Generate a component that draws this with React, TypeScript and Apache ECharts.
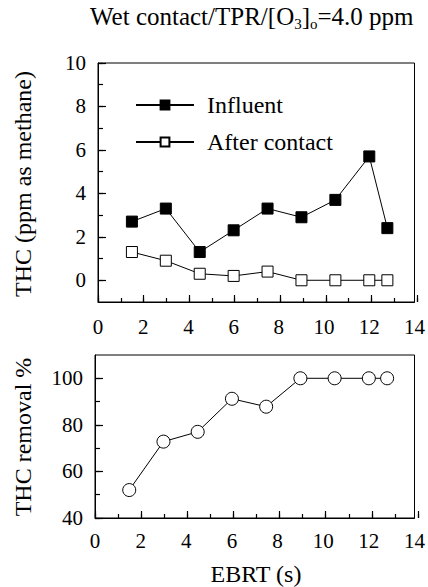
import React, { useEffect, useRef } from "react";
import * as echarts from "echarts";

const ebrt = [1.5, 3, 4.5, 6, 7.5, 9, 10.5, 12, 12.8];
const influent = [2.7, 3.3, 1.3, 2.3, 3.3, 2.9, 3.7, 5.7, 2.4];
const afterContact = [1.3, 0.9, 0.3, 0.2, 0.4, 0, 0, 0, 0];
const removal = [52, 72.8, 77, 91.2, 87.8, 100, 100, 100, 100];

const topLabelValues = [0, 2, 4, 6, 8, 10];
const bottomLabelValues = [40, 60, 80, 100];

const FONT = "Liberation Serif";
const BLACK = "#000";

function pairs(xs: number[], ys: number[]) {
  return xs.map((x, i) => [x, ys[i]]);
}

export default function App() {
  const ref = useRef<HTMLDivElement>(null);
  useEffect(() => {
    if (!ref.current) return;
    document.body.style.margin = "0";
    const chart = echarts.init(ref.current, undefined, { renderer: "svg" });

    const grids: any[] = [
      { left: 98, top: 63, width: 319, height: 239, show: true, borderColor: BLACK, borderWidth: 1 },
      { left: 95, top: 355, width: 323, height: 163, show: true, borderColor: BLACK, borderWidth: 1 },
    ];
    const xAxes: any[] = [];
    const yAxes: any[] = [];

    const xA = (gridIndex: number, margin: number) => ({
      type: "value",
      gridIndex,
      min: 0,
      max: 14,
      interval: 2,
      axisLine: { show: true, onZero: false, lineStyle: { color: BLACK, width: 1 } },
      axisTick: { show: false },
      axisLabel: { show: true, fontFamily: FONT, fontSize: 21, color: BLACK, margin },
      splitLine: { show: false },
    });
    const yA = (gridIndex: number, min: number, max: number, step: number, labels: number[]) => ({
      type: "value",
      gridIndex,
      min,
      max,
      interval: step,
      axisLine: { show: true, onZero: false, lineStyle: { color: BLACK, width: 1 } },
      axisTick: { show: false },
      axisLabel: {
        show: true,
        fontFamily: FONT,
        fontSize: 21,
        color: BLACK,
        margin: 12,
        formatter: (v: number) => (labels.indexOf(Math.round(v * 1000) / 1000) >= 0 ? String(v) : ""),
      },
      splitLine: { show: false },
    });
    xAxes.push(xA(0, 14), xA(1, 12));
    yAxes.push(yA(0, -1, 10, 1, topLabelValues), yA(1, 40, 110, 10, bottomLabelValues));

    const hidden = {
      axisLine: { show: false, onZero: false },
      axisTick: { show: false },
      axisLabel: { show: false },
    };
    const tickLine = { show: true, lineStyle: { color: BLACK, width: 1.2, type: "solid" } };
    // tiny grids whose split lines act as inside tick marks, on the same scales as the plots
    const tickGridX = (left: number, top: number, width: number, height: number, min: number, max: number, interval: number) => {
      const gi = grids.length;
      grids.push({ left, top, width, height, show: false });
      xAxes.push({ type: "value", gridIndex: gi, min, max, interval, ...hidden, splitLine: tickLine });
      yAxes.push({ type: "value", gridIndex: gi, min: 0, max: 1, ...hidden, splitLine: { show: false } });
    };
    const tickGridY = (left: number, top: number, width: number, height: number, min: number, max: number, interval: number) => {
      const gi = grids.length;
      grids.push({ left, top, width, height, show: false });
      xAxes.push({ type: "value", gridIndex: gi, min: 0, max: 1, ...hidden, splitLine: { show: false } });
      yAxes.push({ type: "value", gridIndex: gi, min, max, interval, ...hidden, splitLine: tickLine });
    };
    // top plot: x ticks
    tickGridX(98, 295, 319, 7, 0, 14, 2);
    tickGridX(98, 298, 319, 4, 0, 14, 1);
    // top plot: y ticks (0..10 span of the -1..10 axis)
    const topUnit = 239 / 11;
    tickGridY(98, 63, 8, topUnit * 10, 0, 10, 2);
    tickGridY(98, 63, 5, topUnit * 10, 0, 10, 1);
    // bottom plot: x ticks
    tickGridX(95, 511, 323, 7, 0, 14, 2);
    tickGridX(95, 514, 323, 4, 0, 14, 1);
    // bottom plot: y ticks (40..100 span of the 40..110 axis)
    const botUnit = 163 / 70;
    tickGridY(95, 518 - botUnit * 60, 8, botUnit * 60, 40, 100, 20);
    tickGridY(95, 518 - botUnit * 60, 5, botUnit * 60, 40, 100, 10);

    const nameText = (text: string, x: number, y: number, rotate: boolean) => ({
      type: "text",
      x,
      y,
      rotation: rotate ? Math.PI / 2 : 0,
      style: {
        text,
        fontFamily: FONT,
        fontSize: 24,
        fill: BLACK,
        textAlign: "center",
        textVerticalAlign: "middle",
      },
    });
    chart.setOption({
      animation: false,
      title: {
        text: "Wet contact/TPR/[O{s|3}]{s|o}=4.0 ppm",
        left: 85,
        top: -3,
        textStyle: {
          fontFamily: FONT,
          fontSize: 25,
          fontWeight: "normal",
          color: BLACK,
          lineHeight: 28,
          rich: {
            s: { fontFamily: FONT, fontSize: 15, color: BLACK, verticalAlign: "top", padding: [14, 0, 0, 0] },
          },
        },
      },
      legend: {
        data: ["Influent", "After contact"],
        orient: "vertical",
        left: 135,
        top: 93,
        padding: 0,
        itemWidth: 58,
        itemHeight: 11,
        itemGap: 13,
        textStyle: { fontFamily: FONT, fontSize: 24, color: BLACK, lineHeight: 24, padding: [0, 0, 0, 8] },
      },
      grid: grids,
      xAxis: xAxes,
      yAxis: yAxes,
      graphic: [
        nameText("THC (ppm as methane)", 23, 184, true),
        nameText("THC removal %", 23, 437, true),
        nameText("EBRT (s)", 256, 574, false),
      ],
      series: [
        {
          name: "Influent",
          type: "line",
          xAxisIndex: 0,
          yAxisIndex: 0,
          data: pairs(ebrt, influent),
          symbol: "rect",
          symbolSize: 11,
          showAllSymbol: true,
          lineStyle: { color: BLACK, width: 1 },
          itemStyle: { color: BLACK, borderColor: BLACK, borderWidth: 1 },
        },
        {
          name: "After contact",
          type: "line",
          xAxisIndex: 0,
          yAxisIndex: 0,
          data: pairs(ebrt, afterContact),
          symbol: "rect",
          symbolSize: 11,
          showAllSymbol: true,
          lineStyle: { color: BLACK, width: 1 },
          itemStyle: { color: "#fff", borderColor: BLACK, borderWidth: 1 },
        },
        {
          name: "Removal",
          type: "line",
          xAxisIndex: 1,
          yAxisIndex: 1,
          data: pairs(ebrt, removal),
          symbol: "circle",
          symbolSize: 13,
          showAllSymbol: true,
          lineStyle: { color: BLACK, width: 1 },
          itemStyle: { color: "#fff", borderColor: BLACK, borderWidth: 1 },
        },
      ],
    });
    return () => chart.dispose();
  }, []);
  return <div ref={ref} style={{ width: 428, height: 587 }} />;
}
